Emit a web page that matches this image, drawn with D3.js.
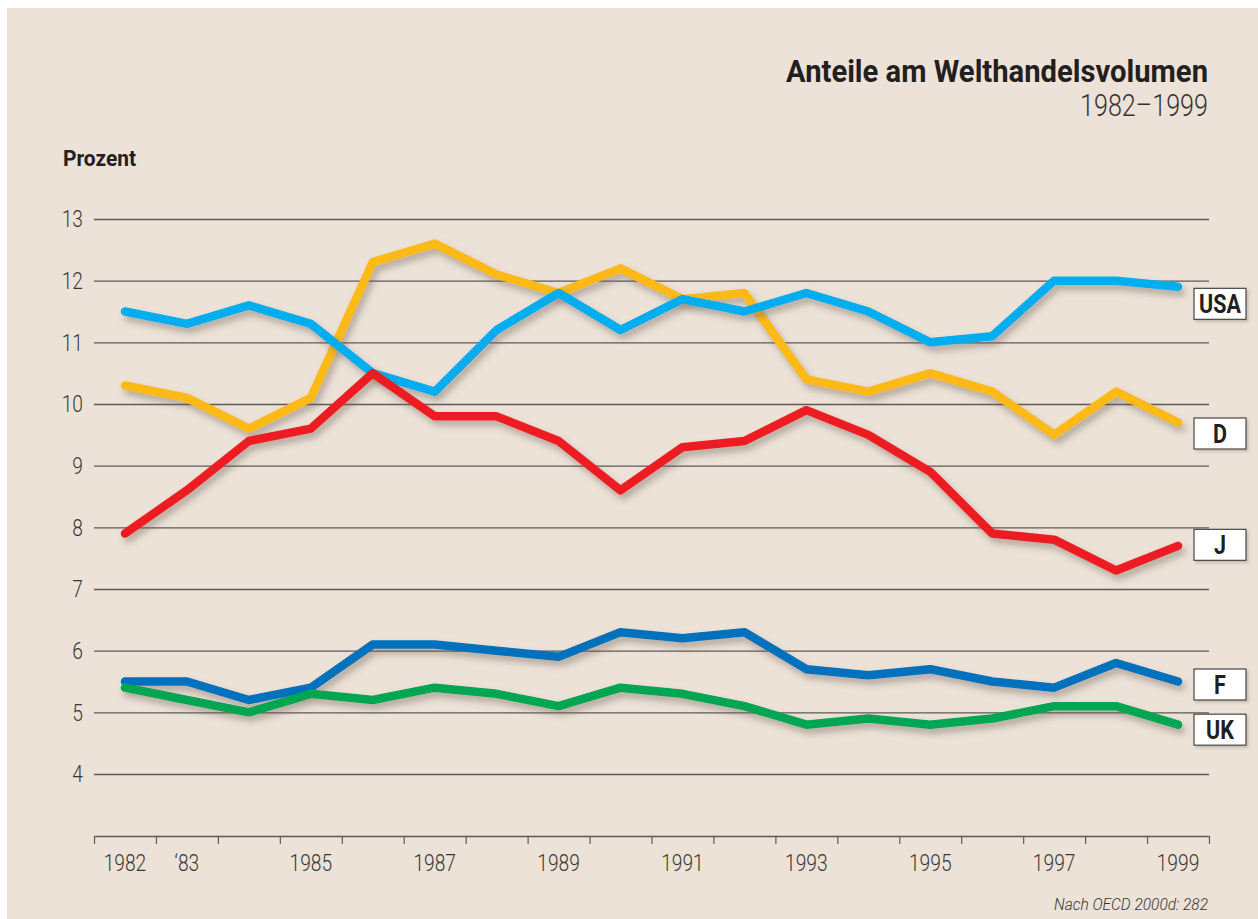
<!DOCTYPE html>
<html>
<head>
<meta charset="utf-8">
<script src="https://cdn.jsdelivr.net/npm/d3@7"></script>
<style>
  body { margin: 0; background: #fff; }
  svg { display: block; }
</style>
</head>
<body>
<div class="chart"></div>
<script>
var years = [1982,1983,1984,1985,1986,1987,1988,1989,1990,1991,1992,1993,1994,1995,1996,1997,1998,1999]

var usa = [11.5,11.3,11.6,11.3,10.5,10.2,11.2,11.8,11.2,11.7,11.5,11.8,11.5,11.0,11.1,12.0,12.0,11.9]
var de  = [10.3,10.1,9.6,10.1,12.3,12.6,12.1,11.8,12.2,11.7,11.8,10.4,10.2,10.5,10.2,9.5,10.2,9.7]
var jp  = [7.9,8.6,9.4,9.6,10.5,9.8,9.8,9.4,8.6,9.3,9.4,9.9,9.5,8.9,7.9,7.8,7.3,7.7]
var fr  = [5.5,5.5,5.2,5.4,6.1,6.1,6.0,5.9,6.3,6.2,6.3,5.7,5.6,5.7,5.5,5.4,5.8,5.5]
var uk  = [5.4,5.2,5.0,5.3,5.2,5.4,5.3,5.1,5.4,5.3,5.1,4.8,4.9,4.8,4.9,5.1,5.1,4.8]

var seriesNames = ["D", "USA", "J", "F", "UK"]
var seriesValues = [de, usa, jp, fr, uk]
var seriesColors = ["#fdb913", "#00aeef", "#ed1c24", "#0071bc", "#00a651"]
// label box nudge (px) relative to the last point
var labelNudge = [11, 17, -1, 3, 5]

var yTicks = [4,5,6,7,8,9,10,11,12,13]
var xLabelYears = [1982,1983,1985,1987,1989,1991,1993,1995,1997,1999]
var xLabelTexts = ["1982","\u201883","1985","1987","1989","1991","1993","1995","1997","1999"]

var font = "Roboto, 'DejaVu Sans Condensed', sans-serif"

// squeeze text horizontally, the original uses a condensed face
function condense(sel, k) {
    sel.each(function () {
        var w = this.getComputedTextLength()
        d3.select(this)
            .attr("textLength", w * k)
            .attr("lengthAdjust", "spacingAndGlyphs")
    })
}
function fitTo(sel, w) {
    sel.attr("textLength", w).attr("lengthAdjust", "spacingAndGlyphs")
}

var svg = d3.select(".chart")
    .append("svg")
    .attr("width", 1258)
    .attr("height", 919)

var defs = svg.append("defs")
var f = defs.append("filter")
    .attr("id", "shadow")
    .attr("x", "-10%").attr("y", "-20%")
    .attr("width", "130%").attr("height", "160%")
f.append("feDropShadow")
    .attr("dx", 3).attr("dy", 5)
    .attr("stdDeviation", 3.5)
    .attr("flood-color", "#6b5f55")
    .attr("flood-opacity", 0.45)

var fb = defs.append("filter")
    .attr("id", "boxshadow")
    .attr("x", "-20%").attr("y", "-30%")
    .attr("width", "150%").attr("height", "170%")
fb.append("feDropShadow")
    .attr("dx", 2).attr("dy", 2)
    .attr("stdDeviation", 1.5)
    .attr("flood-color", "#6b5f55")
    .attr("flood-opacity", 0.3)

svg.append("rect")
    .attr("x", 7)
    .attr("y", 8)
    .attr("width", 1251)
    .attr("height", 911)
    .attr("fill", "#ece2d8")

var x = d3.scaleLinear().domain([1981.5, 1999.5]).range([94, 1209])
var y = d3.scaleLinear().domain([4, 13]).range([774, 219])

// title
svg.append("text")
    .attr("x", 1208)
    .attr("y", 82)
    .attr("text-anchor", "end")
    .text("Anteile am Welthandelsvolumen")
    .style("font-size", "31px")
    .style("font-weight", "bold")
    .attr("font-family", font)
    .attr("fill", "#231f20")
    .call(fitTo, 422)

svg.append("text")
    .attr("x", 1208)
    .attr("y", 116)
    .attr("text-anchor", "end")
    .text("1982\u20131999")
    .style("font-size", "32px")
    .style("font-weight", 300)
    .attr("font-family", font)
    .attr("fill", "#333")
    .call(fitTo, 128)

svg.append("text")
    .attr("x", 63)
    .attr("y", 166)
    .text("Prozent")
    .style("font-size", "22px")
    .style("font-weight", "bold")
    .attr("font-family", font)
    .attr("fill", "#231f20")
    .call(fitTo, 73)

// gridlines + y labels
var yAxis = svg.append("g")
    .attr("transform", "translate(94,0)")
    .call(d3.axisLeft(y).tickValues(yTicks).tickSize(-1115).tickPadding(11).tickFormat(d3.format("d")))
yAxis.select(".domain").remove()
yAxis.selectAll(".tick line")
    .attr("stroke", "#5f5955")
    .attr("stroke-width", 1.4)
yAxis.selectAll(".tick text")
    .style("font-size", "24px")
    .style("font-weight", 300)
    .attr("font-family", font)
    .attr("fill", "#3a3633")
    .call(condense, 0.8)

// x axis, ticks sit between the years
var edges = d3.range(1981.5, 2000, 1)
var xAxis = svg.append("g")
    .attr("transform", "translate(0,836)")
    .call(d3.axisBottom(x).tickValues(edges).tickSize(8).tickSizeOuter(0).tickFormat(""))
xAxis.select(".domain").attr("stroke", "#5f5955").attr("stroke-width", 1.4)
xAxis.selectAll(".tick line").attr("stroke", "#5f5955").attr("stroke-width", 1.2)

svg.append("g")
    .selectAll("text")
    .data(xLabelYears)
    .join("text")
    .attr("x", d => x(d))
    .attr("y", 871)
    .attr("text-anchor", "middle")
    .text((d, i) => xLabelTexts[i])
    .style("font-size", "24px")
    .style("font-weight", 300)
    .attr("font-family", font)
    .attr("fill", "#3a3633")
    .call(condense, 0.8)

// lines
var line = d3.line()
    .x((d, i) => x(years[i]))
    .y(d => y(d))

seriesValues.forEach((vals, k) => {
    svg.append("path")
        .datum(vals)
        .attr("d", line)
        .attr("fill", "none")
        .attr("stroke", seriesColors[k])
        .attr("stroke-width", 8.5)
        .attr("stroke-linejoin", "round")
        .attr("stroke-linecap", "round")
        .attr("filter", "url(#shadow)")
})

// label boxes at the right
seriesNames.forEach((name, k) => {
    var last = seriesValues[k][seriesValues[k].length - 1]
    var cy = y(last) + labelNudge[k]
    var g = svg.append("g")
    g.append("rect")
        .attr("x", 1194)
        .attr("y", cy - 15.5)
        .attr("width", 52)
        .attr("height", 31)
        .attr("fill", "#fff")
        .attr("stroke", "#4a4542")
        .attr("stroke-width", 1.2)
        .attr("filter", "url(#boxshadow)")
    g.append("text")
        .attr("x", 1220)
        .attr("y", cy + 9)
        .attr("text-anchor", "middle")
        .text(name)
        .style("font-size", "25px")
        .style("font-weight", "bold")
        .attr("font-family", font)
        .attr("fill", "#231f20")
        .call(condense, 0.86)
})

svg.append("text")
    .attr("x", 1208)
    .attr("y", 910)
    .attr("text-anchor", "end")
    .text("Nach OECD 2000d: 282")
    .style("font-size", "17px")
    .style("font-style", "italic")
    .style("font-weight", 300)
    .attr("font-family", font)
    .attr("fill", "#3a3633")
    .call(fitTo, 154)
</script>
</body>
</html>
